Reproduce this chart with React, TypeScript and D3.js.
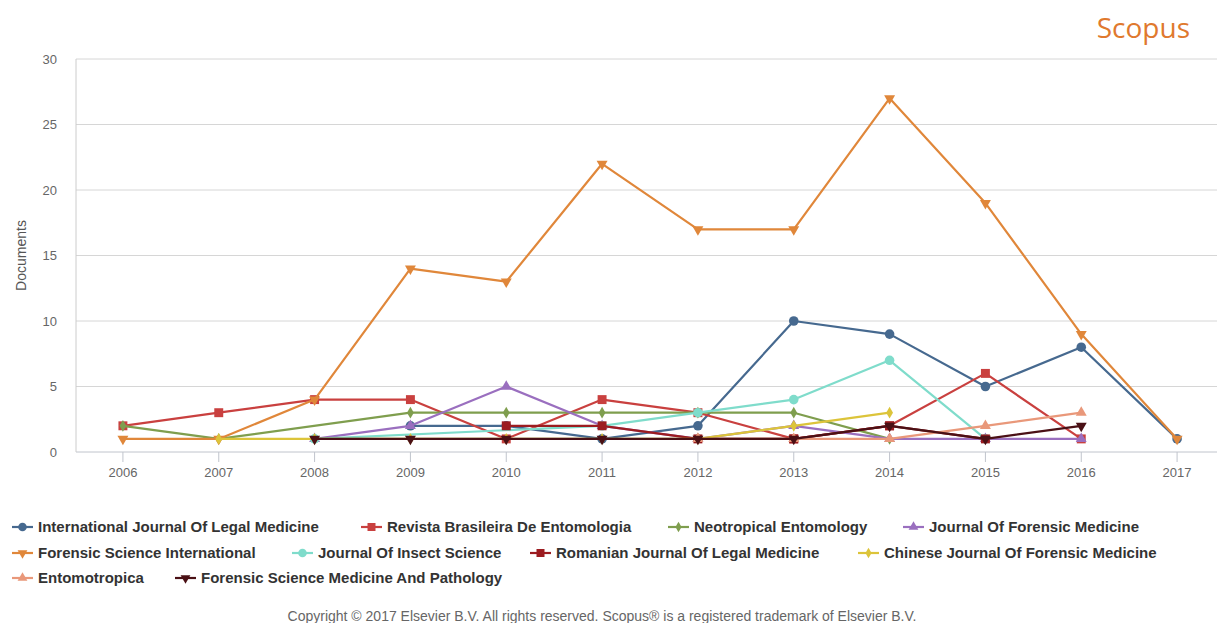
import React, { useEffect, useRef } from 'react';
import * as d3 from 'd3';

// years on the x axis
const years = ['2006', '2007', '2008', '2009', '2010', '2011', '2012', '2013', '2014', '2015', '2016', '2017'];
const yTicks = [0, 5, 10, 15, 20, 25, 30];

type V = number | null;

// one row per journal, values per year (null = no point)
const ijlm: V[] = [null, null, null, 2, 2, 1, 2, 10, 9, 5, 8, 1];
const revista: V[] = [2, 3, 4, 4, 1, 4, 3, 1, 2, 6, 1, null];
const neotropical: V[] = [2, 1, null, 3, 3, 3, 3, 3, 1, null, null, null];
const jfm: V[] = [null, null, 1, 2, 5, 2, 1, 2, 1, 1, 1, null];
const fsi: V[] = [1, 1, 4, 14, 13, 22, 17, 17, 27, 19, 9, 1];
const insect: V[] = [null, null, 1, null, null, 2, 3, 4, 7, 1, null, null];
const romanian: V[] = [null, null, null, null, 2, 2, 1, 1, 2, 1, null, null];
const chinese: V[] = [null, 1, 1, 1, 1, 1, 1, 2, 3, null, null, null];
const entomotropica: V[] = [null, null, null, null, null, null, 1, 1, 1, 2, 3, null];
const fsmp: V[] = [null, null, 1, 1, 1, 1, 1, 1, 2, 1, 2, null];

const seriesNames = [
  'International Journal Of Legal Medicine',
  'Revista Brasileira De Entomologia',
  'Neotropical Entomology',
  'Journal Of Forensic Medicine',
  'Forensic Science International',
  'Journal Of Insect Science',
  'Romanian Journal Of Legal Medicine',
  'Chinese Journal Of Forensic Medicine',
  'Entomotropica',
  'Forensic Science Medicine And Pathology',
];
const seriesValues = [ijlm, revista, neotropical, jfm, fsi, insect, romanian, chinese, entomotropica, fsmp];
const seriesColors = ['#46698f', '#c9403f', '#7f9e4e', '#9a6fbf', '#e0873a', '#7fdccb', '#9c1c20', '#dcc43a', '#e9987a', '#4a1015'];
const seriesShapes = ['circle', 'square', 'diamond', 'triangle', 'down', 'circle', 'square', 'diamond', 'triangle', 'down'];

// legend rows: [series index, x of text]
const legendRows = [
  [[0, 38], [1, 387], [2, 694], [3, 929]],
  [[4, 38], [5, 318], [6, 556], [7, 884]],
  [[8, 38], [9, 201]],
];

const font = 'Liberation Sans, Arial, sans-serif';

const symbolFor = (shape: string, scale = 1) => {
  const s = shape === 'circle' ? d3.symbolCircle
    : shape === 'square' ? d3.symbolSquare
    : shape === 'diamond' ? d3.symbolDiamond
    : d3.symbolTriangle;
  const size = shape === 'circle' ? 72 : shape === 'square' ? 80 : shape === 'diamond' ? 40 : 52;
  return d3.symbol().type(s).size(size * scale)();
};

export default function App() {
  const ref = useRef<SVGSVGElement>(null);

  useEffect(() => {
    if (!ref.current) return;
    const svg = d3.select(ref.current);
    svg.selectAll('*').remove();

    const left = 76;
    const top = 59;
    const bottom = 452;

    const x = d3.scalePoint<string>().domain(years).range([75, 1225]).padding(0.5);
    const y = d3.scaleLinear().domain([0, 30]).range([bottom, top]);

    // grid
    svg.append('g')
      .selectAll('line')
      .data(yTicks)
      .enter().append('line')
      .attr('x1', left)
      .attr('x2', 1217)
      .attr('y1', d => y(d))
      .attr('y2', d => y(d))
      .attr('stroke', d => (d === 0 ? '#c0c4cc' : '#d6d6d6'))
      .attr('stroke-width', 1);

    svg.append('line')
      .attr('x1', left).attr('x2', left)
      .attr('y1', top).attr('y2', bottom)
      .attr('stroke', '#cccccc');

    // y tick labels
    svg.append('g')
      .selectAll('text')
      .data(yTicks)
      .enter().append('text')
      .attr('x', 57)
      .attr('y', d => y(d) + 4.5)
      .attr('text-anchor', 'end')
      .attr('font-family', font)
      .attr('font-size', 13)
      .attr('fill', '#666')
      .text(d => d);

    // x ticks
    const xt = svg.append('g');
    xt.selectAll('line')
      .data(years)
      .enter().append('line')
      .attr('x1', d => x(d)!)
      .attr('x2', d => x(d)!)
      .attr('y1', bottom)
      .attr('y2', bottom + 10)
      .attr('stroke', '#c0c4cc');
    xt.selectAll('text')
      .data(years)
      .enter().append('text')
      .attr('x', d => x(d)!)
      .attr('y', 477)
      .attr('text-anchor', 'middle')
      .attr('font-family', font)
      .attr('font-size', 13)
      .attr('fill', '#666')
      .text(d => d);

    svg.append('text')
      .attr('transform', `translate(26,${(top + bottom) / 2}) rotate(-90)`)
      .attr('text-anchor', 'middle')
      .attr('font-family', font)
      .attr('font-size', 14)
      .attr('fill', '#555')
      .text('Documents');

    // series
    const line = d3.line<[string, number]>()
      .x(d => x(d[0])!)
      .y(d => y(d[1]));

    seriesValues.forEach((vals, i) => {
      const pts = years
        .map((yr, j) => [yr, vals[j]] as [string, V])
        .filter(p => p[1] !== null) as [string, number][];
      const g = svg.append('g');
      g.append('path')
        .attr('d', line(pts))
        .attr('fill', 'none')
        .attr('stroke', seriesColors[i])
        .attr('stroke-width', 2.2)
        .attr('stroke-linejoin', 'round');
      g.selectAll('path.pt')
        .data(pts)
        .enter().append('path')
        .attr('class', 'pt')
        .attr('d', symbolFor(seriesShapes[i]))
        .attr('transform', d => `translate(${x(d[0])},${y(d[1])})${seriesShapes[i] === 'down' ? ' rotate(180)' : ''}`)
        .attr('fill', seriesColors[i]);
    });

    // legend
    const rowY = [527, 553, 578];
    legendRows.forEach((row, r) => {
      row.forEach(([idx, tx]) => {
        const g = svg.append('g').attr('transform', `translate(${tx},${rowY[r]})`);
        g.append('line')
          .attr('x1', -26).attr('x2', -5)
          .attr('y1', 0).attr('y2', 0)
          .attr('stroke', seriesColors[idx])
          .attr('stroke-width', 2.2);
        g.append('path')
          .attr('d', symbolFor(seriesShapes[idx], 0.8))
          .attr('transform', `translate(-15.5,0)${seriesShapes[idx] === 'down' ? ' rotate(180)' : ''}`)
          .attr('fill', seriesColors[idx]);
        g.append('text')
          .attr('x', 0)
          .attr('y', 5)
          .attr('font-family', font)
          .attr('font-size', 15)
          .attr('font-weight', 'bold')
          .attr('fill', '#333')
          .text(seriesNames[idx]);
      });
    });

    svg.append('text')
      .attr('x', 602)
      .attr('y', 621)
      .attr('text-anchor', 'middle')
      .attr('font-family', font)
      .attr('font-size', 14)
      .attr('fill', '#666')
      .text('Copyright © 2017 Elsevier B.V. All rights reserved. Scopus® is a registered trademark of Elsevier B.V.');

    svg.append('text')
      .attr('x', 1190)
      .attr('y', 38)
      .attr('text-anchor', 'end')
      .attr('font-family', 'Open Sans, sans-serif')
      .attr('font-size', 28)
      .attr('fill', '#e0792e')
      .text('Scopus');
  }, []);

  return (
    <svg
      ref={ref}
      width={1217}
      height={623}
      style={{ position: 'absolute', left: 0, top: 0, background: '#fff' }}
    />
  );
}
